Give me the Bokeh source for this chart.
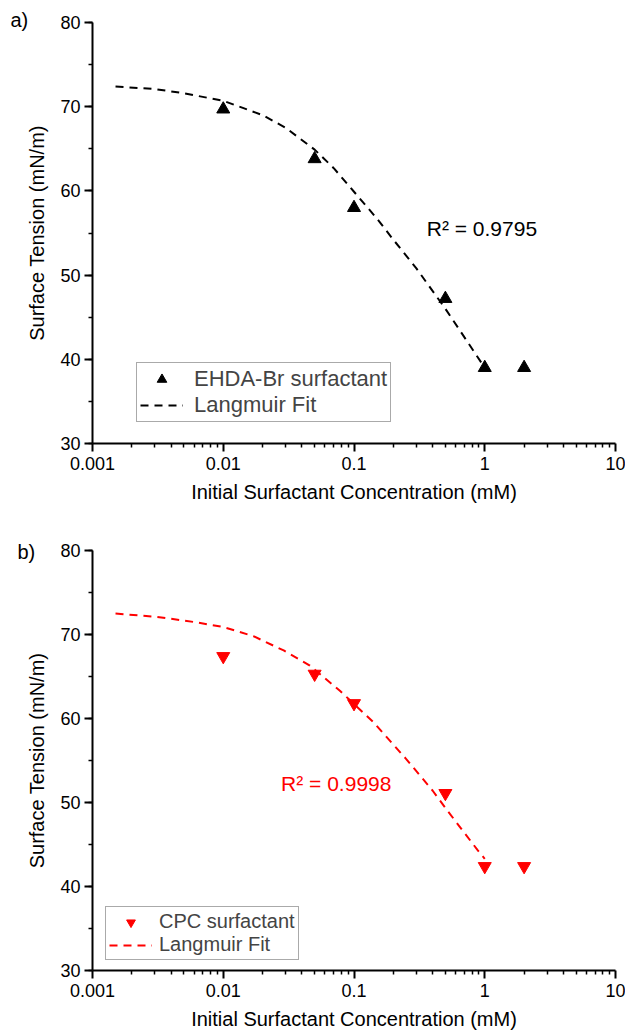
from bokeh.plotting import figure
from bokeh.models import (FixedTicker, SingleIntervalTicker, CustomJSTickFormatter,
                          Legend, LegendItem, Label, Title)
from bokeh.layouts import column
from bokeh.embed import file_html
from bokeh.resources import INLINE

# ---- data ----
conc = [0.01, 0.05, 0.1, 0.5, 1.0, 2.0]
ehda_st = [69.7, 63.8, 58.0, 47.2, 39.0, 39.0]
cpc_st = [67.4, 65.3, 61.8, 51.1, 42.4, 42.4]

fit_a_x = [0.0015, 0.003, 0.005, 0.01, 0.02, 0.03, 0.05, 0.07, 0.1, 0.15, 0.2, 0.3, 0.5, 0.7, 1.0]
fit_a_y = [72.4, 72.1, 71.6, 70.7, 69.0, 67.5, 64.9, 62.7, 59.9, 56.7, 54.2, 50.8, 46.0, 42.6, 39.0]

fit_b_x = [0.0015, 0.0031, 0.0059, 0.01, 0.017, 0.029, 0.046, 0.078, 0.14, 0.25, 0.40, 0.52, 0.885, 1.0]
fit_b_y = [72.5, 72.1, 71.5, 70.9, 69.8, 68.1, 66.3, 63.3, 59.6, 55.2, 51.4, 49.0, 44.3, 43.3]

x_major = [0.001, 0.01, 0.1, 1, 10]
x_minor = [k * 10.0 ** e for e in range(-3, 1) for k in range(2, 10)]

FONT = "Liberation Sans"
XLABEL = "Initial Surfactant Concentration (mM)"
YLABEL = "Surface Tension (mN/m)"


def make_panel(height, top, bottom, pts, fit_x, fit_y, color, marker, pt_label,
               r2_text, r2_x, r2_y, letter, letter_offset, letter_standoff,
               leg_loc, leg_font, leg_h, leg_standoff):
    p = figure(width=625, height=height, x_axis_type="log",
               x_range=(0.001, 10), y_range=(30, 80),
               output_backend="svg", toolbar_location=None,
               min_border_left=92, min_border_right=10,
               min_border_top=top, min_border_bottom=bottom)
    p.xgrid.visible = False
    p.ygrid.visible = False
    p.outline_line_color = None
    p.xaxis.ticker = FixedTicker(ticks=x_major, minor_ticks=x_minor)
    p.xaxis.formatter = CustomJSTickFormatter(code="return String(parseFloat(tick.toPrecision(3)));")
    p.yaxis.ticker = SingleIntervalTicker(interval=10, num_minor_ticks=2)
    p.xaxis.axis_label = XLABEL
    p.yaxis.axis_label = YLABEL
    for ax in (p.xaxis[0], p.yaxis[0]):
        ax.axis_line_width = 2
        ax.major_tick_line_width = 2
        ax.minor_tick_line_width = 1.5
        ax.major_tick_out = 8
        ax.major_tick_in = 0
        ax.minor_tick_out = 4
        ax.minor_tick_in = 0
        ax.major_label_text_font = FONT
        ax.major_label_text_font_size = "18px"
        ax.major_label_text_color = "black"
        ax.axis_label_text_font = FONT
        ax.axis_label_text_font_size = "20px"
        ax.axis_label_text_font_style = "normal"
        ax.axis_label_text_color = "black"
    p.xaxis.major_label_standoff = 5
    p.xaxis.axis_label_standoff = 8
    p.yaxis.major_label_standoff = 4
    p.yaxis.axis_label_standoff = 9

    r_fit = p.line(fit_x, fit_y, line_color=color, line_width=2, line_dash="8 6")
    r_pts = p.scatter(conc, pts, marker=marker, size=13, fill_color=color, line_color=color)

    legend = Legend(items=[LegendItem(label=pt_label, renderers=[r_pts]),
                           LegendItem(label="Langmuir Fit", renderers=[r_fit])],
                    location=leg_loc, orientation="vertical",
                    label_text_font=FONT, label_text_font_size=leg_font,
                    glyph_width=43, glyph_height=leg_h, label_height=leg_h,
                    label_standoff=leg_standoff, spacing=0, padding=3, margin=0,
                    border_line_color="#555555", border_line_width=1,
                    background_fill_color="white", background_fill_alpha=1)
    p.add_layout(legend)

    p.add_layout(Label(x=r2_x, y=r2_y, text=r2_text, text_color=color,
                       text_font=FONT, text_font_size="21px",
                       text_align="left", text_baseline="middle"))
    p.add_layout(Title(text=letter, align="left", offset=letter_offset,
                       standoff=letter_standoff, text_font=FONT,
                       text_font_size="20px", text_font_style="normal",
                       text_color="black"), "above")
    return p


p1 = make_panel(510, 22, 67, ehda_st, fit_a_x, fit_a_y, "black", "triangle",
                "EHDA-Br surfactant", "R² = 0.9795", 0.36, 55.5,
                "a)", -82, -16, (44, 21), "22px", 24, 11)
p2 = make_panel(523, 40, 63, cpc_st, fit_b_x, fit_b_y, "#ff0000", "inverted_triangle",
                "CPC surfactant", "R² = 0.9998", 0.0277, 52.3,
                "b)", -75, -24, (13, 10), "20px", 22, 7)

layout = column(p1, p2, spacing=0)
open("out.html", "w").write(file_html(layout, INLINE))
